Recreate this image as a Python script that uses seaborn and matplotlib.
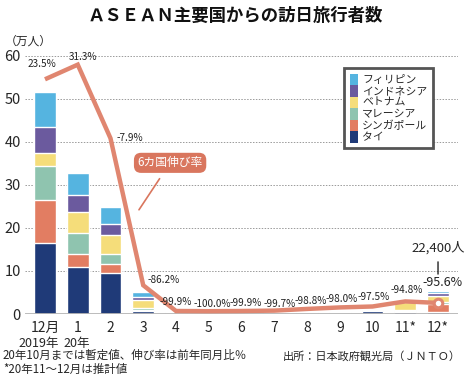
import numpy as np
import pandas as pd
import matplotlib
matplotlib.use("Agg")
import matplotlib.pyplot as plt
import seaborn as sns
from matplotlib.patches import Patch

# ---------------- data ----------------
title = "ＡＳＥＡＮ主要国からの訪日旅行者数"
unit_label = "（万人）"
months = ["12月", "1", "2", "3", "4", "5", "6", "7", "8", "9", "10", "11*", "12*"]
year_labels = ["2019年", "20年"]
countries = ["タイ", "シンガポール", "マレーシア", "ベトナム", "インドネシア", "フィリピン"]
thai =      [16.5, 10.9, 9.6, 0.6, 0.05, 0.0, 0.0, 0.05, 0.25, 0.2, 0.7, 0.4, 0.5]
singapore = [10.0, 3.1, 1.9, 0.3, 0.0, 0.0, 0.0, 0.0, 0.05, 0.05, 0.05, 0.2, 1.8]
malaysia =  [7.8, 4.8, 2.5, 0.4, 0.05, 0.0, 0.0, 0.05, 0.05, 0.15, 0.05, 0.3, 0.4]
vietnam =   [3.0, 5.0, 4.4, 1.9, 0.05, 0.0, 0.0, 0.05, 0.05, 0.05, 0.05, 2.0, 1.4]
indonesia = [6.1, 3.8, 2.6, 0.8, 0.0, 0.0, 0.0, 0.0, 0.0, 0.0, 0.05, 0.1, 0.8]
philippines = [8.2, 5.2, 3.9, 1.0, 0.3, 0.0, 0.0, 0.0, 0.0, 0.0, 0.0, 0.3, 0.5]
growth = [23.5, 31.3, -7.9, -86.2, -99.9, -100.0, -99.9, -99.7, -98.8, -98.0, -97.5, -94.8, -95.6]
series_label = "6カ国伸び率"
total_note = "22,400人"
yticks = [0, 10, 20, 30, 40, 50, 60]
note1 = "20年10月までは暫定値、伸び率は前年同月比％"
note2 = "*20年11～12月は推計値"
source = "出所：日本政府観光局（ＪＮＴＯ）"

# ---------------- style ----------------
colors = ["#1F3A78", "#E27D62", "#8FC4AF", "#F5DD7A", "#6B5A9E", "#55B4E0"]
line_color = "#E08670"
label_box_color = "#D9765E"

sns.set_theme(style="white")
plt.rcParams["font.family"] = ["Noto Sans CJK JP", "DejaVu Sans"]

W, H = 465, 379
fig = plt.figure(figsize=(W / 100, H / 100), dpi=100)
rect = [25 / W, 65 / H, 433 / W, 267 / H]
ax = fig.add_axes(rect)

xlim = (-0.61, 12.61)
ymax = 62

layers = np.array([thai, singapore, malaysia, vietnam, indonesia, philippines])
cum = np.cumsum(layers, axis=0)
for k in range(len(countries) - 1, -1, -1):
    sns.barplot(x=months, y=cum[k], color=colors[k], saturation=1, width=0.67,
                ax=ax, zorder=2, errorbar=None)

ax.set_xlim(*xlim)
ax.set_ylim(0, ymax)
ax.set_yticks(yticks)
ax.set_yticklabels([str(v) for v in yticks])
ax.yaxis.grid(True, linestyle=(0, (1.5, 1.5)), color="#9a9a9a", lw=0.7)
ax.set_axisbelow(True)
ax.axhline(0, color="#b5b5b5", lw=2, zorder=3)
for s in ax.spines.values():
    s.set_visible(False)
ax.tick_params(axis="y", length=0, pad=3, labelsize=10.5)
ax.tick_params(axis="x", length=0, pad=5, labelsize=10)
ax.set_xlabel("")
ax.set_ylabel("")

# year labels under first two months
year_shifts = [-6, -1]
for i, lab in enumerate(year_labels):
    ax.annotate(lab, xy=(i, 0), xytext=(year_shifts[i], -29), textcoords="offset pixels",
                ha="center", va="center", fontsize=9, annotation_clip=False)

# legend
handles = [Patch(facecolor=colors[k], edgecolor="none", label=countries[k])
           for k in range(len(countries) - 1, -1, -1)]
leg = ax.legend(handles=handles, loc="upper left", bbox_to_anchor=(0.737, 0.922),
                fontsize=7.8, frameon=True, fancybox=False, framealpha=1,
                handlelength=0.75, handleheight=1.25, labelspacing=0.0,
                handletextpad=0.35, borderpad=0.55, borderaxespad=0)
leg.get_frame().set_edgecolor("#555555")
leg.get_frame().set_linewidth(2)

# total note for last bar
ax.annotate(total_note, xy=(12, cum[-1][-1]), xytext=(0, 43), textcoords="offset pixels",
            ha="center", va="center", fontsize=9.5,
            arrowprops=dict(arrowstyle="-", color="#222222", lw=1, shrinkA=3, shrinkB=12))

# growth label box
ax.annotate(series_label, xy=(2.87, 24.2), xytext=(3.82, 35.1), textcoords="data",
            ha="center", va="center", fontsize=8.5, color="white",
            bbox=dict(boxstyle="round,pad=0.3,rounding_size=0.6", fc=label_box_color, ec="none"),
            arrowprops=dict(arrowstyle="-", color=label_box_color, lw=1.2, shrinkA=5, shrinkB=0))

# ---------------- growth line (overlay axes) ----------------
ax2 = fig.add_axes(rect, facecolor="none")
r_lo = -101.5
ax2.set_xlim(*xlim)
ax2.set_ylim(r_lo, r_lo + ymax / 0.436)
xpos = np.arange(len(months))
sns.lineplot(x=xpos, y=growth, ax=ax2, color=line_color, lw=3.2, solid_joinstyle="miter",
             solid_capstyle="butt")
sns.scatterplot(x=xpos[-1:], y=growth[-1:], ax=ax2, s=38, color="white",
                edgecolor=line_color, linewidth=2.2, zorder=5)
ax2.set_axis_off()

offsets = [(-3, 15), (5, 8), (19, 0), (20, 5), (0, 9), (4, 7), (4, 8), (5, 7),
           (4, 8), (2, 8), (1, 9), (1, 11), (4, 20)]
for i, g in enumerate(growth):
    fs = 9 if i == len(growth) - 1 else 7.2
    ax2.annotate(f"{g:.1f}%", xy=(xpos[i], g), xytext=offsets[i], textcoords="offset pixels",
                 ha="center", va="center", fontsize=fs, color="#222222")

# ---------------- texts ----------------
fig.text(0.505, 1 - 16 / H, title, ha="center", va="center", fontsize=12.5,
         fontweight="bold", color="#111111")
fig.text(5 / W, 1 - 41 / H, unit_label, ha="left", va="center", fontsize=8.5)
fig.text(3 / W, 1 - 355 / H, note1, ha="left", va="center", fontsize=8.3)
fig.text(3 / W, 1 - 369 / H, note2, ha="left", va="center", fontsize=8.3)
fig.text(461 / W, 1 - 356 / H, source, ha="right", va="center", fontsize=8)

fig.savefig("out.png", dpi=100)
